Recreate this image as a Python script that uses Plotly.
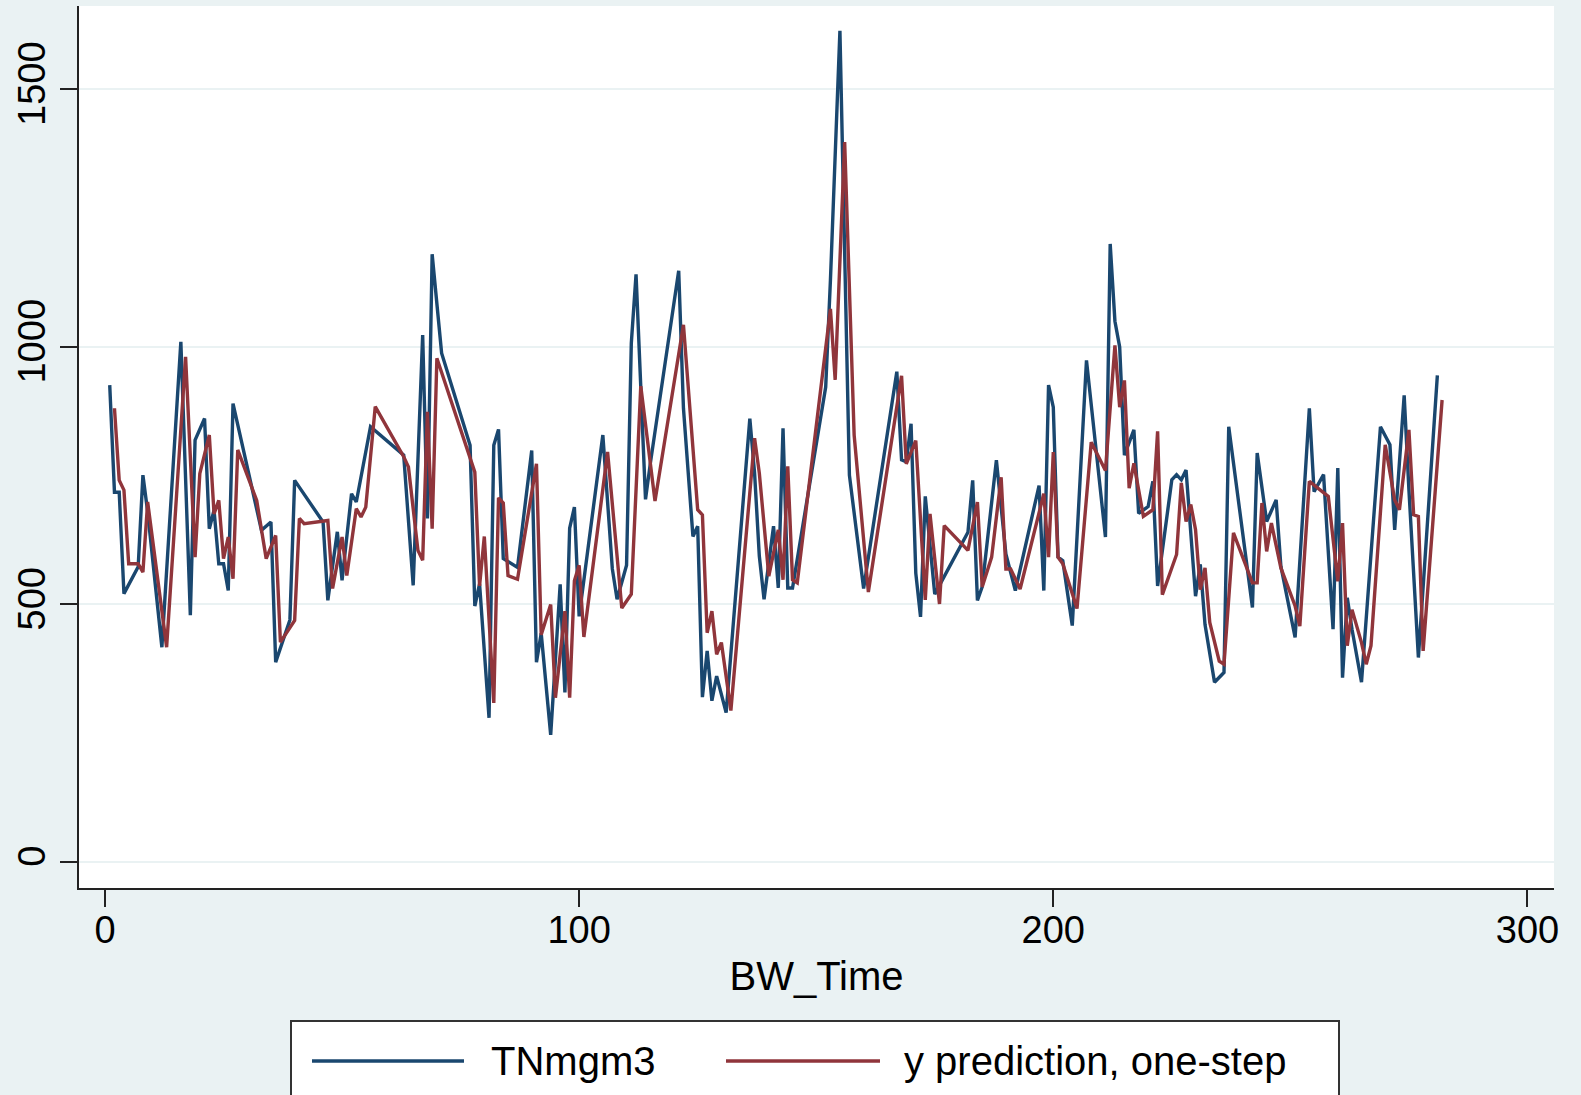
import plotly.graph_objects as go

# ---- data ----
obs_time = [1,2,3,4,7,8,9,12,16,18,19,21,22,23,24,25,26,27,33,35,36,39,40,
            46,47,49,50,52,53,56,63,65,67,68,69,71,77,78,79,81,82,83,84,87,90,91,92,94,96,97,98,99,100,105,107,108,110,111,112,114,115,121,
            122,123,124,125,126,127,128,129,131,136,137,138,139,141,142,143,144,145,152,153,155,157,160,167,168,169,170,171,172,173,175,
            182,183,184,185,188,190,192,197,198,199,200,201,202,204,207,211,212,213,214,215,217,218,220,221,222,225,226,227,228,230,231,232,234,236,237,242,243,245,247,248,251,254,255,257,259,260,261,262,263,265,269,271,272,274,275,277,281]
tn_mgm3 = [926,718,718,521,573,751,680,417,1010,479,819,861,647,683,579,579,527,890,644,660,388,470,741,
           660,508,641,547,715,699,845,790,537,1023,667,1180,988,809,497,540,280,809,840,589,572,799,388,444,247,539,329,648,689,477,829,569,510,576,1007,1141,704,773,1148,
           881,748,632,652,320,410,313,361,290,861,755,594,510,652,532,842,532,532,922,1130,1614,751,531,952,781,777,851,561,476,710,520,
           640,741,508,534,780,598,527,731,527,926,883,592,585,459,974,631,1200,1050,1000,790,839,677,690,739,536,742,752,742,761,516,578,461,349,368,845,494,794,661,703,574,436,881,719,752,452,765,358,513,452,349,845,810,645,906,723,397,945]

pred_time = [2,3,4,5,7,8,9,13,17,19,20,22,23,24,25,26,27,28,32,34,36,37,40,
             41,42,47,48,50,51,53,54,55,57,63,64,66,67,68,69,70,78,79,80,82,83,84,85,87,91,92,94,95,97,98,99,100,101,106,109,111,113,116,122,
             125,126,127,128,129,130,132,137,138,140,142,143,144,145,146,153,154,156,158,161,168,169,171,173,174,176,
             177,182,184,185,187,189,190,191,193,198,199,200,201,202,205,208,211,213,214,215,216,217,219,221,222,223,226,227,228,229,230,231,232,233,235,236,238,242,243,244,245,246,248,251,252,254,257,258,260,261,262,263,265,266,267,270,272,273,275,276,277,278,282]
y_pred = [881,741,722,579,579,563,699,417,981,592,754,829,676,702,589,631,550,800,702,589,634,427,469,
          667,657,663,531,631,556,686,670,689,884,787,767,605,586,874,647,978,757,536,632,309,707,697,556,549,773,441,500,319,487,319,546,576,437,796,493,520,924,701,1043,
          684,674,445,487,403,426,294,823,755,555,645,548,768,548,542,1074,936,1398,829,524,944,773,818,509,676,501,
          653,605,699,534,592,747,569,569,530,715,592,796,592,579,492,815,760,1003,883,935,726,774,671,684,836,519,597,736,661,694,645,529,571,465,390,384,639,542,542,697,603,658,571,497,458,739,716,710,545,658,420,490,426,384,420,810,703,684,839,674,671,410,897]

x_ticks = [0, 100, 200, 300]
y_ticks = [0, 500, 1000, 1500]
series_names = ["TNmgm3", "y prediction, one-step"]
x_title = "BW_Time"

NAVY = "#1A476F"
MAROON = "#90353B"
BG = "#EAF2F3"
FONT = "Liberation Sans, Arial, Helvetica, sans-serif"

fig = go.Figure()
fig.add_trace(go.Scatter(x=obs_time, y=tn_mgm3, mode="lines", name=series_names[0],
                         line=dict(color=NAVY, width=3.4)))
fig.add_trace(go.Scatter(x=pred_time, y=y_pred, mode="lines", name=series_names[1],
                         line=dict(color=MAROON, width=3.4)))

W, H = 1581, 1095
L, R, T, B = 79, 27, 6, 207
pw, ph = W - L - R, H - T - B

def px_x(p):
    return (p - L) / pw

def px_y(p):
    return (H - B - p) / ph

fig.update_layout(
    width=W, height=H,
    margin=dict(l=L, r=R, t=T, b=B, pad=0),
    paper_bgcolor=BG, plot_bgcolor="white",
    showlegend=False,
    font=dict(family=FONT, size=38, color="black"),
    xaxis=dict(range=[-5.48, 305.6], tickvals=x_ticks, ticks="outside", ticklen=17,
               tickwidth=2, tickcolor="#222", showline=True, linecolor="#222", linewidth=2,
               showgrid=False, zeroline=False, tickfont=dict(size=38),
               ticklabelstandoff=-10,
               title=dict(text=x_title, font=dict(size=40), standoff=12)),
    yaxis=dict(range=[-50.5, 1662], tickvals=y_ticks, ticks="outside", ticklen=17,
               tickwidth=2, tickcolor="#222", showline=True, linecolor="#222", linewidth=2,
               showgrid=True, gridcolor=BG, gridwidth=2, zeroline=False,
               tickangle=-90, tickfont=dict(size=38)),
)

# manual legend (Stata style: long line samples, boxed, below the plot)
box_x0, box_x1 = px_x(291), px_x(1339)
box_y0, box_y1 = px_y(1021), px_y(1130)
fig.add_shape(type="rect", xref="paper", yref="paper", x0=box_x0, x1=box_x1, y0=box_y1, y1=box_y0,
              line=dict(color="#333", width=2), fillcolor="white", layer="above")
ly = px_y(1061)
fig.add_shape(type="line", xref="paper", yref="paper", x0=px_x(312), x1=px_x(464), y0=ly, y1=ly,
              line=dict(color=NAVY, width=3.4))
fig.add_shape(type="line", xref="paper", yref="paper", x0=px_x(726), x1=px_x(880), y0=ly, y1=ly,
              line=dict(color=MAROON, width=3.4))
fig.add_annotation(xref="paper", yref="paper", x=px_x(489), y=ly, text=series_names[0],
                   showarrow=False, xanchor="left", yanchor="middle", font=dict(size=40))
fig.add_annotation(xref="paper", yref="paper", x=px_x(902), y=ly, text=series_names[1],
                   showarrow=False, xanchor="left", yanchor="middle", font=dict(size=40))

fig.write_html("out.html")
